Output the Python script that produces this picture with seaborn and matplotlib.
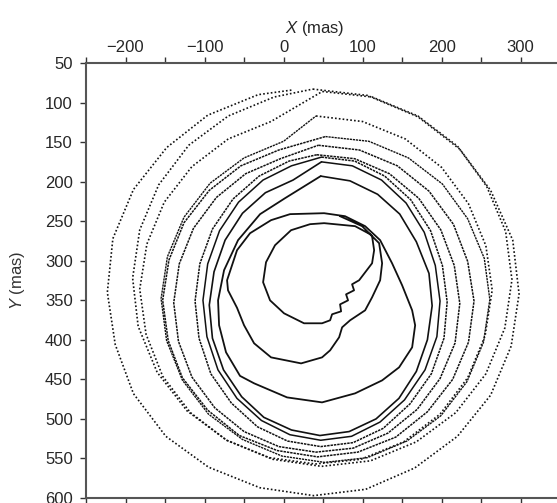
import matplotlib
matplotlib.use('Agg')
import matplotlib.pyplot as plt
import seaborn as sns

# Trayectoria (mas), en orden: espiral interior y luego lazos hacia fuera
inner_x = [71.5, 99.4, 112.0, 114.6, 112.0, 95.6, 86.7, 89.2, 79.1, 81.6, 71.5, 72.8, 61.4, 58.9,
           48.7, 25.9, 0.6, -17.1, -25.9, -22.2, -10.8, 9.5, 33.5, 51.3, 90.5, 109.5, 120.9, 124.7,
           122.2, 112.0, 103.2, 84.2, 74.1, 70.3, 58.9, 48.7, 22.2, -15.8, -37.3, -50.0, -58.9,
           -70.3, -71.5, -58.9, -42.4, -15.8, 8.2, 51.3, 77.8, 103.2, 122.2, 137.3, 150.0, 162.7,
           166.5, 162.7, 146.2, 124.7, 90.5, 48.7, 4.4, -37.3, -55.1, -72.8, -81.6, -82.9, -75.3,
           -57.6, -29.7, 1.9]
inner_y = [243.7, 256.3, 269.0, 286.7, 303.2, 324.7, 329.8, 337.4, 342.5, 350.1, 355.2, 364.0, 367.7,
           375.3, 379.1, 379.1, 366.5, 350.1, 327.2, 301.9, 280.4, 261.4, 253.8, 252.5, 256.3, 266.5,
           277.8, 303.2, 324.7, 346.3, 362.7, 375.3, 384.2, 396.8, 413.3, 422.2, 429.8, 422.2, 404.4,
           381.6, 359.5, 337.4, 324.7, 286.7, 265.2, 248.7, 241.1, 239.9, 243.7, 256.3, 274.0, 303.2,
           331.0, 362.7, 381.6, 409.5, 434.8, 451.3, 467.7, 479.1, 472.8, 455.0, 445.6, 415.8, 381.6,
           350.1, 312.0, 274.0, 241.1, 220.9]

i4_x = [47, 84, 119, 147, 168, 184, 188, 182, 168, 146, 117, 83, 46, 10, -25, -53, -76, -90, -94, -88, -74, -52, -23, 12]
i4_y = [193, 199, 216, 241, 276, 316, 357, 400, 440, 474, 500, 516, 521, 514, 498, 472, 438, 398, 356, 314, 274, 240, 214, 198]

m7_x = [48, 87, 124, 155, 178, 192, 198, 194, 179, 153, 122, 86, 47, 8, -28, -59, -83, -97, -102, -96, -81, -57, -26, 10]
m7_y = [175, 180, 198, 227, 264, 306, 351, 396, 438, 476, 504, 522, 527, 520, 502, 474, 438, 396, 350, 304, 262, 226, 198, 180]

m6_x = [48, 90, 128, 161, 186, 201, 207, 203, 187, 160, 126, 88, 47, 5, -33, -66, -92, -107, -112, -106, -90, -64, -31, 7]
m6_y = [169, 174, 193, 223, 262, 306, 352, 398, 443, 481, 512, 530, 535, 528, 510, 480, 443, 398, 351, 304, 260, 222, 193, 174]

m5_x = [42, 90, 134, 171, 199, 216, 223, 217, 198, 169, 132, 88, 41, -6, -50, -87, -116, -133, -139, -132, -114, -85, -48, -4]
m5_y = [166, 171, 190, 221, 261, 306, 354, 404, 449, 488, 518, 537, 542, 535, 516, 486, 447, 402, 353, 304, 259, 220, 190, 171]

m4_x = [44, 96, 144, 184, 215, 233, 241, 234, 214, 182, 142, 94, 43, -8, -56, -96, -128, -146, -153, -145, -126, -94, -54, -6]
m4_y = [154, 160, 180, 212, 254, 301, 351, 403, 450, 491, 523, 542, 548, 540, 521, 489, 448, 401, 350, 299, 252, 211, 180, 160]

m3_x = [53, 108, 158, 201, 233, 254, 261, 253, 232, 199, 156, 106, 52, -2, -52, -95, -128, -148, -155, -147, -126, -93, -50, 0]
m3_y = [143, 149, 170, 203, 247, 297, 349, 403, 453, 496, 528, 549, 555, 547, 526, 494, 451, 401, 348, 295, 245, 202, 170, 149]

m2_x = [41, 100, 154, 200, 234, 256, 264, 255, 233, 198, 152, 98, 40, -18, -72, -118, -153, -174, -182, -173, -151, -116, -70, -16]
m2_y = [117, 124, 146, 182, 228, 281, 337, 395, 448, 494, 529, 551, 557, 549, 527, 492, 446, 393, 336, 279, 226, 181, 146, 124]

m1_x = [49, 112, 170, 220, 257, 281, 289, 280, 256, 218, 168, 110, 48, -14, -72, -122, -160, -184, -191, -182, -158, -120, -70, -12]
m1_y = [86, 93, 117, 155, 206, 263, 324, 385, 443, 492, 529, 553, 560, 551, 527, 490, 441, 383, 322, 261, 204, 154, 117, 93]

l1_x = [37, 106, 170, 223, 262, 290, 298, 288, 262, 220, 166, 104, 38, -30, -95, -149, -190, -213, -223, -216, -190, -148, -96, -32, 12]
l1_y = [83, 91, 118, 159, 211, 274, 342, 408, 470, 522, 562, 589, 597, 587, 561, 522, 468, 406, 340, 272, 210, 157, 116, 90, 84]

sns.set_style('ticks')
plt.rcParams['font.family'] = ['Liberation Sans', 'DejaVu Sans']
plt.rcParams['mathtext.fontset'] = 'custom'
plt.rcParams['mathtext.it'] = 'Liberation Sans:italic'
plt.rcParams['mathtext.rm'] = 'Liberation Sans'

fig = plt.figure(figsize=(5.57, 5.03), dpi=100)
ax = fig.add_axes([86 / 557, 5 / 503, 471 / 557, 435 / 503])

solido = '-'
denso = (0, (1.6, 0.6))
punteado = (0, (1, 1.3))

# (x, y, estilo, grosor) — de dentro hacia fuera
trazos = [
    (inner_x, inner_y, solido, 1.3),
    (i4_x, i4_y, solido, 1.2),
    (m7_x, m7_y, solido, 1.1),
    (m6_x, m6_y, denso, 1.1),
    (m5_x, m5_y, denso, 1.1),
    (m4_x, m4_y, denso, 1.1),
    (m3_x, m3_y, denso, 1.0),
    (m2_x, m2_y, punteado, 1.2),
    (m1_x, m1_y, punteado, 1.2),
    (l1_x, l1_y, punteado, 1.2),
]
for i, (xs, ys, ls, lw) in enumerate(trazos):
    # enlazar cada lazo con el comienzo del siguiente para que la espiral sea continua
    if i + 1 < len(trazos):
        xs = xs + [trazos[i + 1][0][0]]
        ys = ys + [trazos[i + 1][1][0]]
    sns.lineplot(x=xs, y=ys, sort=False, estimator=None, errorbar=None, color='#111111',
                 linestyle=ls, linewidth=lw, ax=ax)

ax.set_xlim(-250, 346)
ax.set_ylim(600, 50)

ax.set_xticks([-200, -100, 0, 100, 200, 300])
ax.set_xticks([-250, -150, -50, 50, 150, 250], minor=True)
ax.set_yticks(list(range(50, 601, 50)))
ax.set_xticklabels(['\u2212200', '\u2212100', '0', '100', '200', '300'])

ax.tick_params(axis='x', which='both', top=True, bottom=True, labeltop=True, labelbottom=False,
               direction='out', length=4, width=1, color='#333333', labelsize=12, pad=2)
ax.tick_params(axis='y', which='both', left=True, right=False, direction='out', length=4.5,
               width=1, color='#333333', labelsize=12, pad=5)

for s in ['left', 'top', 'bottom']:
    ax.spines[s].set_color('#555555')
    ax.spines[s].set_linewidth(1.5)
ax.spines['right'].set_visible(False)

ax.xaxis.set_label_position('top')
ax.set_xlabel(r'$\mathit{X}$ (mas)', fontsize=12)
ax.xaxis.set_label_coords(0.486, 1.07)
ax.set_ylabel(r'$\mathit{Y}$ (mas)', fontsize=12, color='#333333')
ax.yaxis.set_label_coords(-0.125, 0.5)
ax.grid(False)

fig.savefig('out.png', dpi=100)
